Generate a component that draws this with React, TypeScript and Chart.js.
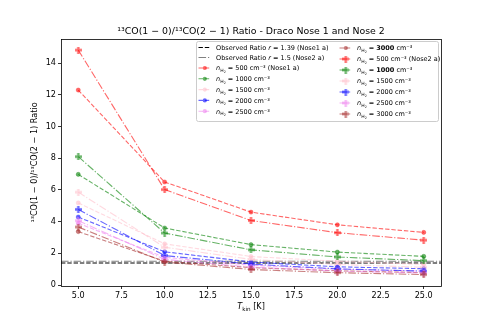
import { useEffect, useRef } from 'react';
import { Chart, registerables } from 'chart.js';
Chart.register(...registerables);

const FONT = '"DejaVu Sans", sans-serif';

const temperatures = [5, 10, 15, 20, 25];
const densities = [500, 1000, 1500, 2000, 2500, 3000];
const seriesColors = ['255,0,0', '0,128,0', '255,192,203', '0,0,255', '238,130,238', '165,42,42'];

// Nose1 a (dashed, circle markers)
const nose1N500 = [12.3, 6.5, 4.6, 3.8, 3.32];
const nose1N1000 = [6.98, 3.6, 2.55, 2.08, 1.81];
const nose1N1500 = [5.18, 2.6, 1.8, 1.5, 1.3];
const nose1N2000 = [4.29, 2.1, 1.45, 1.15, 1.03];
const nose1N2500 = [3.9, 1.75, 1.25, 1.0, 0.88];
const nose1N3000 = [3.37, 1.5, 1.1, 0.9, 0.78];

// Nose2 a (dash-dot, plus markers)
const nose2N500 = [14.82, 6.02, 4.07, 3.3, 2.83];
const nose2N1000 = [8.1, 3.28, 2.22, 1.77, 1.54];
const nose2N1500 = [5.86, 2.38, 1.62, 1.3, 1.12];
const nose2N2000 = [4.77, 1.86, 1.32, 1.02, 0.88];
const nose2N2500 = [4.06, 1.62, 1.13, 0.88, 0.76];
const nose2N3000 = [3.66, 1.45, 0.98, 0.78, 0.66];

const nose1Series = [nose1N500, nose1N1000, nose1N1500, nose1N2000, nose1N2500, nose1N3000];
const nose2Series = [nose2N500, nose2N1000, nose2N1500, nose2N2000, nose2N2500, nose2N3000];
const nose1Suffix = [' (Nose1 a)', '', '', '', '', ''];
const nose2Suffix = [' (Nose2 a)', '', '', '', '', ''];
const nose1Bold = [false, false, false, false, false, true];
const nose2Bold = [false, true, false, false, false, false];

const observedValues = [1.39, 1.5];
const observedNames = ['1.39 (Nose1 a)', '1.5 (Nose2 a)'];

const xTickValues = [5, 7.5, 10, 12.5, 15, 17.5, 20, 22.5, 25];
const yTickValues = [0, 2, 4, 6, 8, 10, 12, 14];
const xLimits = [4, 26];
const yLimits = [-0.06, 15.52];

const DASH = [4.4, 1.9];
const DASHDOT = [7.6, 1.9, 1.2, 1.9];
const ALPHA = 0.6;

function plusMarker(rgb: string, alpha: number, size: number) {
  const c = document.createElement('canvas');
  c.width = size;
  c.height = size;
  const g = c.getContext('2d')!;
  const s = size;
  const t = s / 3;
  g.fillStyle = `rgba(${rgb},${alpha})`;
  g.beginPath();
  const pts = [[t, 0], [2 * t, 0], [2 * t, t], [s, t], [s, 2 * t], [2 * t, 2 * t], [2 * t, s], [t, s], [t, 2 * t], [0, 2 * t], [0, t], [t, t]];
  pts.forEach((p, i) => (i === 0 ? g.moveTo(p[0], p[1]) : g.lineTo(p[0], p[1])));
  g.closePath();
  g.fill();
  return c;
}

type Seg = { t: string; it?: boolean; bold?: boolean; size?: number; dy?: number };

function drawRich(ctx: CanvasRenderingContext2D, x: number, y: number, segs: Seg[], base: number, align: 'left' | 'center' = 'left') {
  const fontOf = (s: Seg) => `${s.it ? 'italic ' : ''}${s.bold ? 'bold ' : ''}${(s.size ?? 1) * base}px ${FONT}`;
  let total = 0;
  segs.forEach((s) => {
    ctx.font = fontOf(s);
    total += ctx.measureText(s.t).width;
  });
  let cx = align === 'center' ? x - total / 2 : x;
  ctx.textAlign = 'left';
  ctx.textBaseline = 'alphabetic';
  segs.forEach((s) => {
    ctx.font = fontOf(s);
    ctx.fillText(s.t, cx, y + (s.dy ?? 0) * base);
    cx += ctx.measureText(s.t).width;
  });
}

function densityLabel(d: number, bold: boolean, suffix: string): Seg[] {
  return [
    { t: 'n', it: true },
    { t: 'H', size: 0.7, dy: 0.25 },
    { t: '2', size: 0.5, dy: 0.4 },
    { t: ' = ' },
    { t: String(d), bold },
    { t: ' cm⁻³' + suffix },
  ];
}

export default function App() {
  const ref = useRef<HTMLCanvasElement>(null);
  useEffect(() => {
    document.body.style.margin = '0';
    const datasets: any[] = [];
    const legendItems: { color: string; dash: number[]; marker: 'none' | 'circle' | 'plus'; rgb?: string; label: Seg[] }[] = [];

    observedValues.forEach((v, i) => {
      const color = i === 0 ? 'rgba(0,0,0,1)' : 'rgba(128,128,128,1)';
      const dash = i === 0 ? DASH : DASHDOT;
      datasets.push({
        data: xLimits.map((x) => ({ x, y: v })),
        borderColor: color,
        borderWidth: 1.1,
        borderDash: dash,
        pointRadius: 0,
        fill: false,
      });
      legendItems.push({
        color,
        dash,
        marker: 'none',
        label: [{ t: 'Observed Ratio ' }, { t: 'r', it: true }, { t: ' = ' + observedNames[i] }],
      });
    });

    nose1Series.forEach((vals, i) => {
      const rgb = seriesColors[i];
      const color = `rgba(${rgb},${ALPHA})`;
      datasets.push({
        data: temperatures.map((x, k) => ({ x, y: vals[k] })),
        borderColor: color,
        borderWidth: 1.1,
        borderDash: DASH,
        pointStyle: 'circle',
        pointRadius: 2.1,
        pointBackgroundColor: color,
        pointBorderColor: color,
        pointBorderWidth: 0.5,
        fill: false,
      });
      legendItems.push({ color, dash: DASH, marker: 'circle', rgb, label: densityLabel(densities[i], nose1Bold[i], nose1Suffix[i]) });
    });

    nose2Series.forEach((vals, i) => {
      const rgb = seriesColors[i];
      const color = `rgba(${rgb},${ALPHA})`;
      const img = plusMarker(rgb, ALPHA, 7);
      datasets.push({
        data: temperatures.map((x, k) => ({ x, y: vals[k] })),
        borderColor: color,
        borderWidth: 1.1,
        borderDash: DASHDOT,
        pointStyle: img,
        pointRadius: 3.5,
        fill: false,
      });
      legendItems.push({ color, dash: DASHDOT, marker: 'plus', rgb, label: densityLabel(densities[i], nose2Bold[i], nose2Suffix[i]) });
    });

    const N = datasets.length;
    datasets.forEach((d, i) => (d.order = N - i));

    const decor = {
      id: 'decor',
      afterDraw(chart: any) {
        const ctx: CanvasRenderingContext2D = chart.ctx;
        const a = chart.chartArea;
        ctx.save();
        ctx.strokeStyle = '#000';
        ctx.lineWidth = 0.8;
        ctx.setLineDash([]);
        ctx.strokeRect(Math.round(a.left) + 0.5, Math.round(a.top) + 0.5, Math.round(a.right - a.left), Math.round(a.bottom - a.top));

        ctx.fillStyle = '#000';
        drawRich(ctx, (a.left + a.right) / 2, a.top - 5, [{ t: '¹³CO(1 − 0)/¹³CO(2 − 1) Ratio - Draco Nose 1 and Nose 2' }], 9.4, 'center');

        drawRich(ctx, (a.left + a.right) / 2, 309, [{ t: 'T', it: true }, { t: 'kin', size: 0.7, dy: 0.2 }, { t: ' [K]' }], 8.1, 'center');

        ctx.save();
        ctx.translate(37, (a.top + a.bottom) / 2);
        ctx.rotate(-Math.PI / 2);
        drawRich(ctx, 0, 0, [{ t: '¹³CO(1 − 0)/¹³CO(2 − 1) Ratio' }], 8.1, 'center');
        ctx.restore();

        const fs = 6.5;
        const bx = 196, by = 41, bw = 242, bh = 80;
        ctx.fillStyle = 'rgba(255,255,255,0.8)';
        ctx.strokeStyle = 'rgba(204,204,204,1)';
        ctx.lineWidth = 1;
        ctx.beginPath();
        (ctx as any).roundRect(bx + 0.5, by + 0.5, bw, bh, 2);
        ctx.fill();
        ctx.stroke();
        const col1Rows = [47.5, 57.5, 68, 78.8, 89.6, 100.4, 111.2];
        const col2Rows = [48, 59, 70, 81, 92, 103, 114];
        const colX = [198.5, 339.5];
        const hl = 12.6;
        legendItems.forEach((it, idx) => {
          const col = idx < 7 ? 0 : 1;
          const row = idx % 7;
          const yy = col === 0 ? col1Rows[row] : col2Rows[row];
          const hx = colX[col];
          ctx.save();
          ctx.strokeStyle = it.color;
          ctx.lineWidth = 1.1;
          ctx.setLineDash(it.dash);
          ctx.beginPath();
          ctx.moveTo(hx, yy);
          ctx.lineTo(hx + hl, yy);
          ctx.stroke();
          ctx.setLineDash([]);
          const mx = hx + hl / 2;
          if (it.marker === 'circle') {
            ctx.fillStyle = it.color;
            ctx.beginPath();
            ctx.arc(mx, yy, 2.1, 0, Math.PI * 2);
            ctx.fill();
          } else if (it.marker === 'plus') {
            const img = plusMarker(it.rgb!, ALPHA, 7);
            ctx.drawImage(img, mx - 3.5, yy - 3.5);
          }
          ctx.restore();
          ctx.fillStyle = '#000';
          drawRich(ctx, hx + hl + 5, yy + 2.3, it.label, fs);
        });
        ctx.restore();
      },
    };

    const chart = new Chart(ref.current!, {
      type: 'line',
      data: { datasets },
      options: {
        animation: false,
        responsive: false,
        layout: { padding: { left: 0, right: 50, top: 39, bottom: 0 } },
        plugins: { legend: { display: false }, title: { display: false }, tooltip: { enabled: false } },
        scales: {
          x: {
            type: 'linear',
            min: xLimits[0],
            max: xLimits[1],
            afterBuildTicks: (s: any) => {
              s.ticks = xTickValues.map((v) => ({ value: v }));
            },
            afterFit: (s: any) => {
              s.height = 41;
            },
            ticks: {
              color: '#000',
              font: { family: FONT, size: 8.1 },
              padding: 2,
              maxRotation: 0,
              autoSkip: false,
              callback: (v: any) => Number(v).toFixed(1),
            },
            grid: { display: true, drawOnChartArea: false, drawTicks: true, tickLength: 3, tickColor: '#000', tickWidth: 0.8 },
            border: { display: false },
          },
          y: {
            type: 'linear',
            min: yLimits[0],
            max: yLimits[1],
            afterBuildTicks: (s: any) => {
              s.ticks = yTickValues.map((v) => ({ value: v }));
            },
            afterFit: (s: any) => {
              s.width = 61;
            },
            ticks: {
              color: '#000',
              font: { family: FONT, size: 8.1 },
              padding: 2,
              autoSkip: false,
              callback: (v: any) => String(v),
            },
            grid: { display: true, drawOnChartArea: false, drawTicks: true, tickLength: 3, tickColor: '#000', tickWidth: 0.8 },
            border: { display: false },
          },
        },
      },
      plugins: [decor],
    });
    return () => chart.destroy();
  }, []);
  return (
    <div style={{ width: 491, height: 327 }}>
      <canvas ref={ref} width={491} height={327} style={{ display: 'block' }} />
    </div>
  );
}
